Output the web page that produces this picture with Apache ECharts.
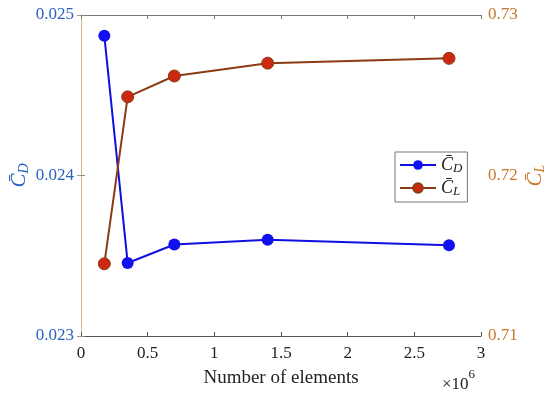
<!DOCTYPE html>
<html><head><meta charset="utf-8">
<script src="https://cdn.jsdelivr.net/npm/echarts@6/dist/echarts.min.js"></script>
<style>html,body{margin:0;padding:0;background:#fff}#c{width:550px;height:393px}</style>
</head><body><div id="c"></div>
<script>
const elements = [0.175, 0.35, 0.7, 1.4, 2.76];
const cdValues = [0.02487, 0.023455, 0.02357, 0.0236, 0.023565];
const clValues = [0.7145, 0.7249, 0.7262, 0.7270, 0.7273];
const xTicks = [0, 0.5, 1, 1.5, 2, 2.5, 3];
const cdTicks = [0.023, 0.024, 0.025];
const clTicks = [0.71, 0.72, 0.73];

const F = '"Liberation Serif","Times New Roman",serif';
const leftColor = '#2a62c0';
const rightColor = '#c8782a';
const chart = echarts.init(document.getElementById('c'));
const nameRich = (col) => ({
  c: {fontFamily: F, fontStyle: 'italic', fontSize: 21, color: col},
  s: {fontFamily: F, fontStyle: 'italic', fontSize: 14, color: col, verticalAlign: 'bottom', padding: [9,0,0,0]}
});
chart.setOption({
  animation: false,
  grid: {left: 81, right: 69, top: 15, bottom: 57, outerBoundsMode: 'none', containLabel: false},
  xAxis: [{
    type: 'value', min: xTicks[0], max: xTicks[xTicks.length-1], interval: 0.5,
    axisLine: {lineStyle: {color: '#555', width: 1}},
    axisTick: {inside: true, length: 4, lineStyle: {color: '#555'}},
    splitLine: {show: false},
    axisLabel: {fontFamily: F, fontSize: 17, color: '#222', margin: 9},
    name: 'Number of elements', nameLocation: 'middle', nameGap: 33, nameMoveOverlap: false,
    nameTextStyle: {fontFamily: F, fontSize: 19, color: '#222'}
  }, {
    type: 'value', position: 'top', min: 0, max: 3, interval: 0.5,
    axisLine: {show: true, lineStyle: {color: '#777'}},
    axisTick: {inside: true, length: 4, lineStyle: {color: '#777'}},
    axisLabel: {show: false}, splitLine: {show: false}
  }],
  yAxis: [{
    type: 'value', min: cdTicks[0], max: cdTicks[2], interval: 0.001,
    axisLine: {show: true, lineStyle: {color: '#9aa8e0'}},
    axisTick: {show: true, inside: true, length: 4, lineStyle: {color: '#888'}},
    splitLine: {show: false},
    axisLabel: {fontFamily: F, fontSize: 17, color: leftColor, margin: 7, formatter: v => v.toFixed(3)},
    name: '{c|C\u0304}{s|D}', nameLocation: 'middle', nameRotate: 90, nameGap: 50, nameMoveOverlap: false,
    nameTextStyle: {rich: nameRich(leftColor)}
  }, {
    type: 'value', min: clTicks[0], max: clTicks[2], interval: 0.01,
    axisLine: {show: true, lineStyle: {color: '#d8b888'}},
    axisTick: {show: true, inside: true, length: 4, lineStyle: {color: '#999'}},
    splitLine: {show: false},
    axisLabel: {fontFamily: F, fontSize: 17, color: rightColor, margin: 7, formatter: v => v.toFixed(2)},
    name: '{c|C\u0304}{s|L}', nameLocation: 'middle', nameRotate: 90, nameGap: 43, nameMoveOverlap: false,
    nameTextStyle: {rich: nameRich(rightColor)}
  }],
  legend: {
    left: 395, top: 152, orient: 'vertical',
    backgroundColor: '#fff', borderColor: '#777', borderWidth: 1, borderRadius: 0,
    padding: [4, 5, 4, 4], itemGap: 4, itemWidth: 36, itemHeight: 12,
    data: ['CD', 'CL'],
    formatter: n => n === 'CD' ? '{c|C\u0304}{s|D}' : '{c|C\u0304}{s|L}',
    textStyle: {rich: {
      c: {fontFamily: F, fontStyle: 'italic', fontSize: 18, color: '#222'},
      s: {fontFamily: F, fontStyle: 'italic', fontSize: 13, color: '#222', padding: [7,0,0,0]}
    }}
  },
  series: [{
    name: 'CD', type: 'line', xAxisIndex: 0, yAxisIndex: 0,
    data: elements.map((x, i) => [x, cdValues[i]]),
    symbol: 'circle', symbolSize: 12,
    lineStyle: {color: '#1010e0', width: 2},
    itemStyle: {color: '#1010f0'}
  }, {
    name: 'CL', type: 'line', xAxisIndex: 0, yAxisIndex: 1,
    data: elements.map((x, i) => [x, clValues[i]]),
    symbol: 'circle', symbolSize: 12,
    lineStyle: {color: '#8b3a14', width: 2},
    itemStyle: {color: '#cc2a10', borderColor: '#8b3a14', borderWidth: 1}
  }],
  graphic: [{
    type: 'text', left: 442, top: 368,
    style: {
      text: '{a|\u00d710}{b|6}',
      rich: {
        a: {fontFamily: F, fontSize: 17, fill: '#222', padding: [8,0,0,0]},
        b: {fontFamily: F, fontSize: 13, fill: '#222', verticalAlign: 'top', padding: [0,0,8,0]}
      }
    }
  }]
});
</script></body></html>
